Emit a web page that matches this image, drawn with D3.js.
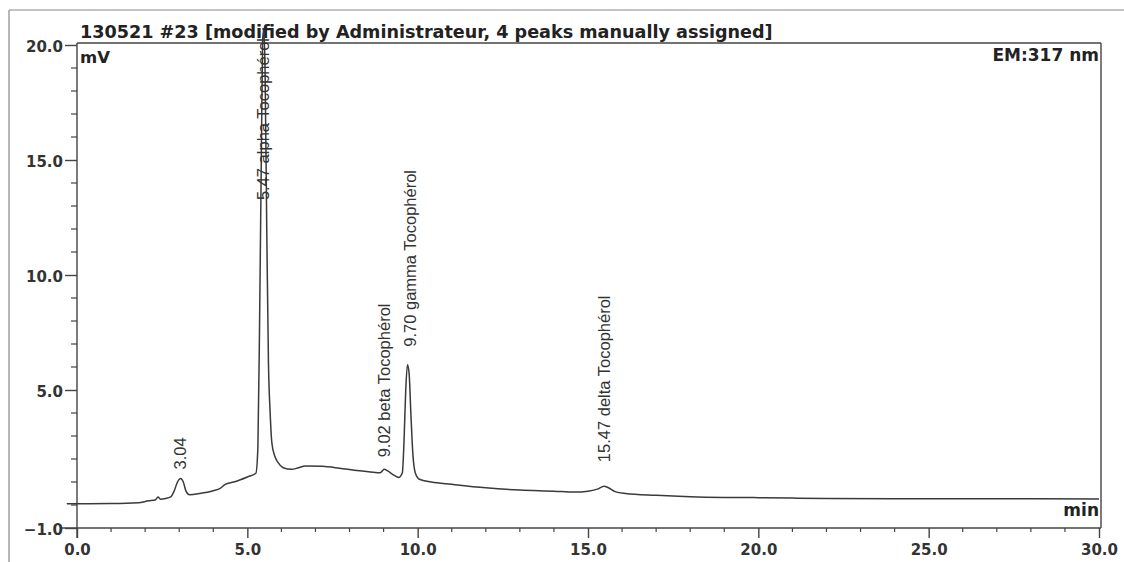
<!DOCTYPE html>
<html>
<head>
<meta charset="utf-8">
<script src="https://cdn.jsdelivr.net/npm/d3@7"></script>
<style>
  html, body { margin: 0; padding: 0; background: #fff; }
  svg { display: block; }
</style>
</head>
<body>
<svg id="chart" width="1124" height="562"></svg>
<script>
// ---- DATA ----
const titleText = "130521 #23 [modified by Administrateur, 4 peaks manually assigned]";
const yUnit = "mV";
const xUnit = "min";
const detector = "EM:317 nm";

const time = [-0.3, 0, 1.0, 1.8, 2.1, 2.3, 2.38, 2.45, 2.6, 2.75, 2.85, 2.95, 3.04, 3.12, 3.2, 3.3, 3.6, 4.0, 4.2, 4.35, 4.6, 5.0, 5.25,
  5.31, 5.36, 5.41, 5.45, 5.48, 5.52, 5.57, 5.62, 5.67, 5.72, 5.8, 5.9, 6.05, 6.3, 6.5, 6.7, 7.2, 7.7, 8.2, 8.7, 8.9,
  9.02, 9.12, 9.3, 9.45, 9.55, 9.6, 9.65, 9.7, 9.75, 9.8, 9.86, 9.93, 10.05, 10.4, 11, 12, 13, 14, 14.6, 15.0, 15.3,
  15.47, 15.6, 15.8, 16.1, 17, 18, 19, 20, 21, 22, 24, 26, 28, 30];
const signal = [0.05, 0.05, 0.06, 0.1, 0.18, 0.22, 0.35, 0.25, 0.28, 0.35, 0.6, 1.0, 1.15, 1.0, 0.6, 0.45, 0.5, 0.62, 0.72, 0.9, 1.0, 1.22, 1.38,
  2.5, 8, 15, 20.2, 20.7, 19, 12, 6.2, 4.0, 2.7, 2.15, 1.85, 1.62, 1.55, 1.62, 1.7, 1.68, 1.6, 1.5, 1.42, 1.4,
  1.55, 1.48, 1.3, 1.2, 1.4, 2.8, 5.0, 6.1, 5.7, 4.0, 2.2, 1.4, 1.12, 1.0, 0.9, 0.75, 0.65, 0.6, 0.56, 0.6, 0.7,
  0.82, 0.75, 0.58, 0.5, 0.42, 0.36, 0.33, 0.32, 0.3, 0.28, 0.27, 0.27, 0.27, 0.26];

const peakTimes = [3.04, 5.47, 9.02, 9.70, 15.47];
const peakHeights = [1.15, 20.7, 1.55, 6.1, 0.82];
const peakLabels = ["3.04", "5.47 alpha Tocophérol", "9.02 beta Tocophérol", "9.70 gamma Tocophérol", "15.47 delta Tocophérol"];

const xMajorTicks = [0, 5, 10, 15, 20, 25, 30];
const yMajorTicks = [-1, 5, 10, 15, 20];

// ---- LAYOUT ----
const labelGaps = [9, 0, 12, 18, 24];
const labelShift = [0, 0, 0, 2.5, 0];

const svg = d3.select("#chart");
const x = d3.scaleLinear().domain([0, 30]).range([77, 1099]);
const y = d3.scaleLinear().domain([-1, 20]).range([528, 45]);

const boldFont = "'DejaVu Sans', sans-serif";
const stroke = "#444";

// outer frame
svg.append("line").attr("x1", 9).attr("x2", 1124).attr("y1", 10).attr("y2", 10)
  .attr("stroke", "#888").attr("stroke-width", 1.2);
svg.append("line").attr("x1", 9).attr("x2", 9).attr("y1", 10).attr("y2", 562)
  .attr("stroke", "#888").attr("stroke-width", 1.2);

const plotTop = y(20) - 2;
// plot frame: top and right
svg.append("line").attr("x1", x(0)).attr("x2", x(30) + 2).attr("y1", plotTop).attr("y2", plotTop)
  .attr("stroke", stroke).attr("stroke-width", 1.4);
svg.append("line").attr("x1", x(30) + 2).attr("x2", x(30) + 2).attr("y1", plotTop).attr("y2", y(-1))
  .attr("stroke", stroke).attr("stroke-width", 1.4);

// x axis
const xAxis = d3.axisBottom(x).tickValues(xMajorTicks).tickFormat(d3.format(".1f")).tickSize(10).tickPadding(6);
const gx = svg.append("g").attr("transform", `translate(0,${y(-1)})`).call(xAxis);
gx.select(".domain").attr("d", `M${x(0) - 17},0H${x(30) + 2}`).attr("stroke", stroke).attr("stroke-width", 1.4);
gx.selectAll(".tick line").attr("stroke", stroke).attr("stroke-width", 1.4);
gx.selectAll(".tick text").attr("font-family", boldFont).attr("font-weight", "bold")
  .attr("font-size", 15).attr("fill", "#333");
const xMinor = d3.range(0, 31).filter(v => v % 5 !== 0);
gx.selectAll(".minor").data(xMinor).enter().append("line")
  .attr("x1", d => x(d)).attr("x2", d => x(d)).attr("y1", 0).attr("y2", 4)
  .attr("stroke", stroke).attr("stroke-width", 1.2);

// y axis
const yAxis = d3.axisLeft(y).tickValues(yMajorTicks).tickFormat(d3.format(".1f")).tickSize(12).tickPadding(2);
const gy = svg.append("g").attr("transform", `translate(${x(0)},0)`).call(yAxis);
gy.select(".domain").attr("d", `M0,${plotTop}V${y(-1) + 10}`).attr("stroke", stroke).attr("stroke-width", 1.4);
gy.selectAll(".tick line").attr("stroke", stroke).attr("stroke-width", 1.4);
gy.selectAll(".tick text").attr("font-family", boldFont).attr("font-weight", "bold")
  .attr("font-size", 15).attr("fill", "#333").attr("dy", "0.45em");
const yMinor = d3.range(-1, 21).filter(v => !yMajorTicks.includes(v));
gy.selectAll(".minor").data(yMinor).enter().append("line")
  .attr("x1", -6).attr("x2", 0).attr("y1", d => y(d)).attr("y2", d => y(d))
  .attr("stroke", stroke).attr("stroke-width", 1.2);

// texts
svg.append("text").attr("x", 80).attr("y", 38).text(titleText)
  .attr("font-family", boldFont).attr("font-weight", "bold").attr("font-size", 17.6).attr("fill", "#222");
svg.append("text").attr("x", 80).attr("y", 63).text(yUnit)
  .attr("font-family", boldFont).attr("font-weight", "bold").attr("font-size", 16.5).attr("fill", "#222");
svg.append("text").attr("x", x(30)).attr("y", 61).attr("text-anchor", "end").text(detector)
  .attr("font-family", boldFont).attr("font-weight", "bold").attr("font-size", 17).attr("fill", "#222");
svg.append("text").attr("x", x(30)).attr("y", 516).attr("text-anchor", "end").text(xUnit)
  .attr("font-family", boldFont).attr("font-weight", "bold").attr("font-size", 17).attr("fill", "#222");

// trace
const pts = time.map((t, i) => [t, signal[i]]);
const line = d3.line().x(d => x(d[0])).y(d => y(d[1])).curve(d3.curveMonotoneX);
svg.append("path").datum(pts).attr("d", line)
  .attr("fill", "none").attr("stroke", "#3a3a3a").attr("stroke-width", 1.5);

// peak labels
peakLabels.forEach((lab, i) => {
  const px = x(peakTimes[i]) + labelShift[i];
  const t = svg.append("text").text(lab)
    .attr("font-family", "'Liberation Sans', Arial, sans-serif").attr("font-size", 16.5)
    .attr("fill", "#333").attr("dy", "0.35em");
  const len = t.node().getComputedTextLength();
  let py = y(peakHeights[i]) - labelGaps[i];
  if (py - len < 38) py = 38 + len;
  t.attr("transform", `translate(${px},${py}) rotate(-90)`);
});
</script>
</body>
</html>
